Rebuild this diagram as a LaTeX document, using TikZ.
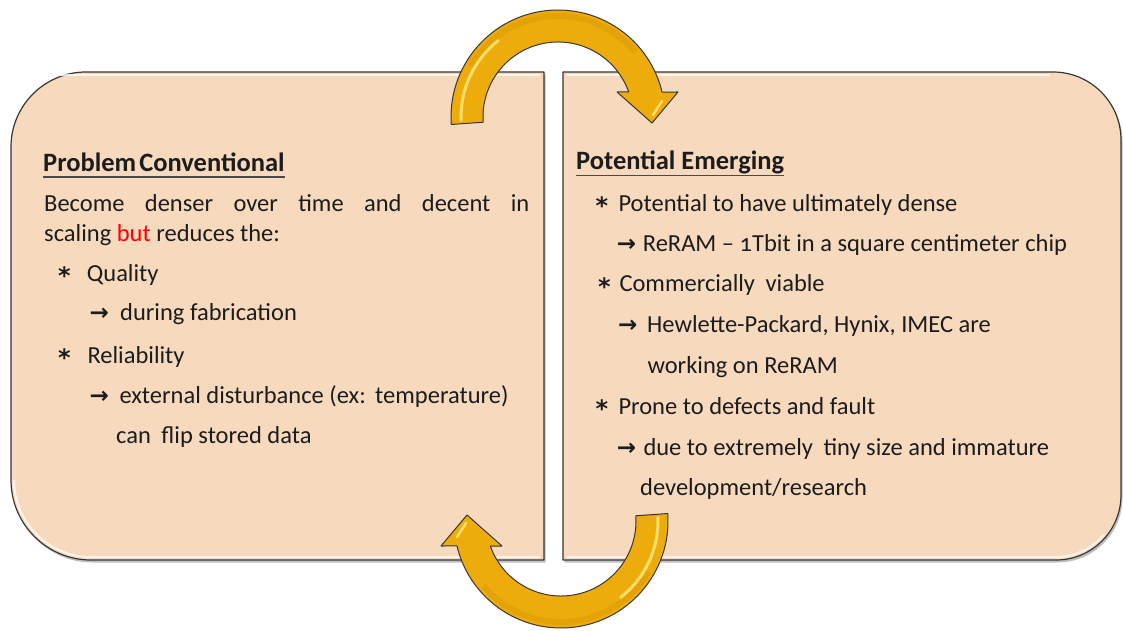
\documentclass[tikz,border=0pt]{standalone}
\usepackage{fontspec}
\setmainfont{Carlito}
\newfontfamily\symfont{DejaVu Sans}
\usetikzlibrary{calc}

\definecolor{boxfill}{RGB}{247,218,189}
\definecolor{boxedge}{RGB}{55,55,55}
\definecolor{gold}{RGB}{238,172,12}
\definecolor{golddark}{RGB}{214,145,0}
\definecolor{goldlight}{RGB}{255,232,120}
\definecolor{ink}{RGB}{28,28,28}

\tikzset{
  txt/.style={anchor=base west, inner sep=0pt, text=ink, font=\fontsize{24.5}{28}\selectfont},
  ttl/.style={txt, font=\fontsize{26.5}{30}\selectfont\bfseries},
  sym/.style={anchor=base west, inner sep=0pt, text=ink, font=\fontsize{23}{26}\symfont\bfseries},
  star/.style={anchor=base west, inner sep=0pt, text=ink, font=\fontsize{24}{26}\symfont\bfseries},
  panel/.style={fill=boxfill, draw=boxedge, line width=1.2pt, line join=round},
  panelshadow/.style={fill=black, opacity=0.25},
  bevel/.style={draw=white, line width=2pt, opacity=0.75},
  uline/.style={draw=ink!80, line width=1.6pt},
  goldarrow/.pic={
    % curved block arrow: outer arc, head, inner arc
    \path[fill=gold, draw=boxedge, line width=1pt, line join=round]
      (184:107) arc[start angle=184, end angle=13.5, radius=107]
      -- (120,25) -- (94,-6) -- (59,25) -- (19.47:75)
      arc[start angle=19.47, end angle=184, radius=75] -- cycle;
    \draw[golddark, line width=6pt, opacity=0.35]
      (150:101) arc[start angle=150, end angle=40, radius=101];
    \draw[goldlight, line width=3pt, line cap=round, opacity=0.85]
      (182:97) arc[start angle=182, end angle=128, radius=97];
    \draw[goldlight, line width=2.5pt, line cap=round, opacity=0.85]
      (104,16) -- (95,2);
  }
}

\begin{document}
\begin{tikzpicture}[x=1pt,y=1pt]
\useasboundingbox (0,0) rectangle (1123,630);

% drop shadows of the two panels
\fill[panelshadow, shift={(1.5,-2.5)}]
  (544,558) -- (86,558) arc[start angle=90, end angle=180, radius=75]
  -- (11,150) arc[start angle=180, end angle=270, radius=80] -- (544,70) -- cycle;
\fill[panelshadow, shift={(1.5,-2.5)}]
  (563,558) -- (1053,558) arc[start angle=90, end angle=0, radius=68]
  -- (1121,135) arc[start angle=0, end angle=-90, radius=65] -- (563,70) -- cycle;

% left panel
\path[panel]
  (544,558) -- (86,558) arc[start angle=90, end angle=180, radius=75]
  -- (11,150) arc[start angle=180, end angle=270, radius=80] -- (544,70) -- cycle;
% right panel
\path[panel]
  (563,558) -- (1053,558) arc[start angle=90, end angle=0, radius=68]
  -- (1121,135) arc[start angle=0, end angle=-90, radius=65] -- (563,70) -- cycle;

% bevel highlights along top and bottom edges
\draw[bevel] (60,555) -- (540,555);
\draw[bevel] (567,555) -- (1050,555);
\draw[bevel] (14,150) arc[start angle=180, end angle=270, radius=77] -- (540,73);
\draw[bevel] (567,73) -- (1056,73) arc[start angle=-90, end angle=-40, radius=62];

% left panel text
\node[ttl] (t1) at (43,458.3) {Problem\hspace{3pt}Conventional};
\draw[uline] ($(t1.base west)+(0,-5.5)$) -- ($(t1.base east)+(0,-5.5)$);
\node[txt] (l1) at (44,418) {\makebox[485pt][s]{Become denser over time and decent in}};
\node[txt] (l2) at (44,388.3) {scaling \textcolor{red}{but} reduces the:};
\node[star] (s1) at (58,345) {*};
\node[txt] (l3) at (86.7,348.3) {Quality};
\node[sym] (r1) at (89.3,310) {→};
\node[txt] (l4) at (120,310) {during fabrication};
\node[star] (s2) at (58,263.4) {*};
\node[txt] (l5) at (87.3,266.7) {Reliability};
\node[sym] (r2) at (89.3,226.7) {→};
\node[txt] (l6) at (119.3,226.7) {external disturbance (ex:\hspace{2pt} temperature)};
\node[txt] (l7) at (116,186.7) {can\hspace{5pt} flip stored data};

% right panel text
\node[ttl] (t2) at (576,460) {Potential Emerging};
\draw[uline] ($(t2.base west)+(0,-5.5)$) -- ($(t2.base east)+(0,-5.5)$);
\node[star] (s3) at (595.5,415) {*};
\node[txt] (m1) at (618.3,418.3) {Potential to have ultimately dense};
\node[sym] (r3) at (616.7,378.3) {→};
\node[txt] (m2) at (642.7,378.3) {ReRAM – {\addfontfeature{Numbers=OldStyle}1}Tbit in a square centimeter chip};
\node[star] (s4) at (598,335) {*};
\node[txt] (m3) at (619.3,338.3) {Commercially\hspace{5pt} viable};
\node[sym] (r4) at (618,298) {→};
\node[txt] (m4) at (647,298) {Hewlette-Packard, Hynix, IMEC are};
\node[txt] (m5) at (647.3,256.7) {working on ReRAM};
\node[star] (s5) at (595.5,212.7) {*};
\node[txt] (m6) at (618.3,216) {Prone to defects and fault};
\node[sym] (r5) at (616.7,175) {→};
\node[txt] (m7) at (643.3,175) {due to extremely\hspace{5pt} tiny size and immature};
\node[txt] (m8) at (640,135) {development/research};

% the two curved arrows
\pic at (558,513) {goldarrow};
\pic[rotate=180] at (561,109) {goldarrow};
\end{tikzpicture}
\end{document}
